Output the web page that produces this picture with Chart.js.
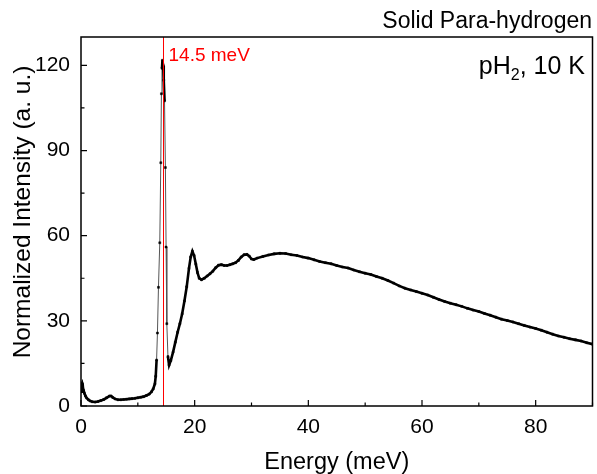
<!DOCTYPE html>
<html>
<head>
<meta charset="utf-8">
<script src="https://cdn.jsdelivr.net/npm/chart.js@4.4.1/dist/chart.umd.min.js"></script>
<style>
  html, body { margin: 0; background: #fff; }
</style>
</head>
<body>
<canvas id="chart" width="597" height="474"></canvas>
<script>
// INS spectrum of solid para-hydrogen at 10 K
const energy = [
  0.0, 0.1, 0.2, 0.3, 0.45, 0.6, 0.8, 1.0, 1.3, 1.6, 2.0, 2.5, 3.0, 3.5, 4.0, 4.5,
  5.0, 5.3, 5.6, 6.0, 6.5, 7.0, 7.5, 8.0, 8.5, 9.0, 9.5, 10.0, 10.5, 11.0, 11.5, 12.0,
  12.4, 12.7, 13.0, 13.15, 13.3, 13.45, 13.63, 13.86, 14.04, 14.15, 14.25, 14.33, 14.45,
  14.56, 14.7, 14.85, 14.97, 15.1, 15.3, 15.5, 15.8, 16.2, 16.6, 17.0, 17.4, 17.8, 18.2,
  18.6, 19.0, 19.3, 19.6, 19.9, 20.2, 20.5, 20.8, 21.2, 21.7, 22.2, 22.7, 23.2, 23.7,
  24.2, 24.7, 25.2, 25.7, 26.2, 26.7, 27.2, 27.7, 28.2, 28.7, 29.2, 29.6, 30.0, 30.4,
  31, 32, 33, 34, 35, 36, 37, 38, 39, 40, 41, 42, 43, 44, 45, 46, 47, 48, 49, 50,
  51, 52, 53, 54, 55, 56, 57, 58, 59, 60, 61, 62, 63, 64, 65, 66, 67, 68, 69, 70,
  71, 72, 73, 74, 75, 76, 77, 78, 79, 80, 81, 82, 83, 84, 85, 86, 87, 88, 89, 90
];
const intensity = [
  5.0, 7.5, 8.0, 7.0, 5.5, 4.5, 3.5, 2.8, 2.2, 1.8, 1.5, 1.4, 1.6, 1.9, 2.3, 2.9,
  3.5, 3.5, 3.0, 2.5, 2.2, 2.2, 2.3, 2.4, 2.5, 2.6, 2.7, 2.9, 3.1, 3.3, 3.7, 4.2,
  5.0, 6.0, 7.8, 10.5, 16.2, 25.7, 41.8, 57.5, 85.7, 110, 119, 121.8, 120,
  114.8, 107.5, 84, 56, 29, 17.4, 14.4, 16.0, 19.0, 22.5, 26.0, 29.0, 32.5, 37.0,
  42.0, 48.5, 52.5, 54.5, 53.0, 50.0, 47.0, 45.0, 44.5, 45.0, 45.8, 46.6, 47.5, 48.7,
  49.6, 49.8, 49.5, 49.5, 49.8, 50.1, 50.5, 51.3, 52.5, 53.3, 53.4, 52.8, 51.8, 51.6,
  52.1, 52.7, 53.2, 53.6, 53.8, 53.7, 53.3, 53.0, 52.5, 52.1, 51.5, 50.9, 50.5, 50.1, 49.5, 49.0, 48.6, 47.9, 47.3, 46.8,
  46.3, 45.6, 45.0, 44.2, 43.3, 42.3, 41.5, 40.9, 40.3, 39.7, 39.1, 38.3, 37.5, 36.8, 36.2, 35.7, 35.1, 34.4, 33.8, 33.3,
  32.6, 32.0, 31.3, 30.6, 30.1, 29.6, 29.0, 28.4, 27.8, 27.3, 26.7, 26.0, 25.3, 24.7, 24.2, 23.7, 23.3, 22.9, 22.3, 21.8
];
const xTicks = [0, 20, 40, 60, 80];
const xMinorTicks = [10, 30, 50, 70, 90];
const yTicks = [0, 30, 60, 90, 120];
const yMinorTicks = [15, 45, 75, 105];
const peakEnergy = 14.5;

const FONT = "'Liberation Sans', Arial, sans-serif";

// steep flanks of the elastic peak are drawn thin and grey
const steep = ctx => Math.abs(ctx.p1.parsed.y - ctx.p0.parsed.y) > 8;

// frame, inward ticks, peak marker and labels
const decorations = {
  id: 'decorations',
  afterDatasetsDraw(chart) {
    const { ctx, chartArea: a, scales: { x, y } } = chart;
    ctx.save();

    // peak position
    const px = Math.round(x.getPixelForValue(peakEnergy)) + 0.5;
    ctx.strokeStyle = '#ff0000';
    ctx.lineWidth = 1;
    ctx.beginPath();
    ctx.moveTo(px, a.top);
    ctx.lineTo(px, a.bottom);
    ctx.stroke();

    // frame
    ctx.strokeStyle = '#000';
    ctx.lineWidth = 1.5;
    ctx.strokeRect(a.left, a.top, a.right - a.left, a.bottom - a.top);

    // ticks pointing into the plot
    ctx.lineWidth = 1.2;
    ctx.beginPath();
    const tickX = (v, len) => {
      const p = x.getPixelForValue(v);
      ctx.moveTo(p, a.bottom);
      ctx.lineTo(p, a.bottom - len);
    };
    const tickY = (v, len) => {
      const p = y.getPixelForValue(v);
      ctx.moveTo(a.left, p);
      ctx.lineTo(a.left + len, p);
    };
    xTicks.forEach(v => tickX(v, 6));
    xMinorTicks.forEach(v => tickX(v, 3.5));
    yTicks.forEach(v => tickY(v, 6));
    yMinorTicks.forEach(v => tickY(v, 3.5));
    ctx.stroke();

    // peak label
    ctx.fillStyle = '#ff0000';
    ctx.font = '19px ' + FONT;
    ctx.textAlign = 'left';
    ctx.textBaseline = 'alphabetic';
    ctx.fillText(peakEnergy + ' meV', px + 5, 61);

    // sample label, pH2 with subscript
    ctx.fillStyle = '#000';
    const big = '25px ' + FONT, small = '16px ' + FONT;
    ctx.font = big;
    const w1 = ctx.measureText('pH').width;
    const w3 = ctx.measureText(', 10 K').width;
    ctx.font = small;
    const w2 = ctx.measureText('2').width;
    let sx = 585 - (w1 + w2 + w3);
    ctx.font = big;
    ctx.fillText('pH', sx, 74);
    ctx.font = small;
    ctx.fillText('2', sx + w1, 80);
    ctx.font = big;
    ctx.fillText(', 10 K', sx + w1 + w2, 74);

    // header
    ctx.font = '23px ' + FONT;
    ctx.textAlign = 'right';
    ctx.fillText('Solid Para-hydrogen', 592, 28);

    // axis titles
    ctx.font = '23.5px ' + FONT;
    ctx.textAlign = 'center';
    ctx.fillText('Energy (meV)', (a.left + a.right) / 2, 469);
    ctx.font = '24.5px ' + FONT;
    ctx.translate(30, 212);
    ctx.rotate(-Math.PI / 2);
    ctx.fillText('Normalized Intensity (a. u.)', 0, 0);

    ctx.restore();
  }
};

new Chart(document.getElementById('chart'), {
  type: 'scatter',
  data: {
    datasets: [{
      data: energy.map((e, i) => ({ x: e, y: intensity[i] })),
      showLine: true,
      borderColor: '#000',
      borderWidth: 2.6,
      pointRadius: 1.4,
      pointStyle: 'rect',
      pointBackgroundColor: '#000',
      pointBorderColor: '#000',
      pointBorderWidth: 0.5,
      segment: {
        borderWidth: ctx => steep(ctx) ? 1 : 2.6,
        borderColor: ctx => steep(ctx) ? '#555' : '#000'
      }
    }]
  },
  options: {
    responsive: false,
    animation: false,
    layout: { padding: { top: 37, right: 3, left: 0, bottom: 0 } },
    plugins: { legend: { display: false }, tooltip: { enabled: false } },
    scales: {
      x: {
        type: 'linear',
        min: 0,
        max: 90,
        afterBuildTicks: s => { s.ticks = xTicks.map(v => ({ value: v })); },
        afterFit: s => { s.height = 68; },
        grid: { display: false, drawTicks: false },
        border: { display: false },
        ticks: { color: '#000', padding: 9, maxRotation: 0, font: { family: FONT, size: 21 } }
      },
      y: {
        type: 'linear',
        min: 0,
        max: 130,
        afterBuildTicks: s => { s.ticks = yTicks.map(v => ({ value: v })); },
        afterFit: s => { s.width = 81; },
        grid: { display: false, drawTicks: false },
        border: { display: false },
        ticks: { color: '#000', padding: 11, font: { family: FONT, size: 21 } }
      }
    }
  },
  plugins: [decorations]
});
</script>
</body>
</html>
